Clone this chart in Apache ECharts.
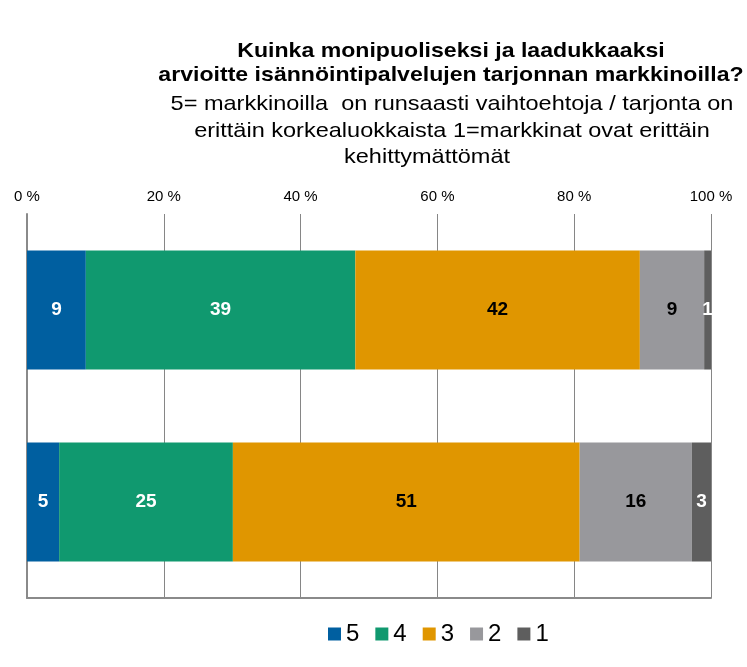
<!DOCTYPE html>
<html>
<head>
<meta charset="utf-8">
<script src="https://cdn.jsdelivr.net/npm/echarts@6/dist/echarts.min.js"></script>
<style>html,body{margin:0;padding:0;background:#fff}#c{width:747px;height:667px}</style>
</head>
<body>
<div id="c"></div>
<script>
// Data (percent shares)
var categories = ['Ryhmä 1', 'Ryhmä 2'];
var levels = ['5', '4', '3', '2', '1'];
var values5 = [8.6, 4.7];
var values4 = [39.4, 25.4];
var values3 = [41.6, 50.7];
var values2 = [9.4, 16.4];
var values1 = [1.0, 2.8];
var tickValues = [0, 20, 40, 60, 80, 100];

var titleLines = ['Kuinka monipuoliseksi ja laadukkaaksi', 'arvioitte isännöintipalvelujen tarjonnan markkinoilla?'];
var subtitleLines = ['5= markkinoilla  on runsaasti vaihtoehtoja / tarjonta on', 'erittäin korkealuokkaista 1=markkinat ovat erittäin', 'kehittymättömät'];

var colors = ['#005FA0', '#10996F', '#E09600', '#98989C', '#5E5E5E'];
var labelColors = ['#fff', '#fff', '#000', '#000', '#fff'];
var seriesValues = [values5, values4, values3, values2, values1];

var FONT = '"Liberation Sans", Arial, sans-serif';
var gridTop = 214, gridBottomPx = 598, gridLeft = 27, gridRightPx = 711;

var chart = echarts.init(document.getElementById('c'), null, {renderer: 'canvas'});

var graphics = [];
var titleY = [51, 75];
titleLines.forEach(function (t, i) {
  graphics.push({type: 'text', x: 451, y: titleY[i], scaleX: 1.1, z: 10,
    style: {text: t, x: 0, y: 0, textAlign: 'center', textVerticalAlign: 'middle',
      font: 'bold 21px ' + FONT, fill: '#000'}});
});
var subY = [104, 131, 157];
var subX = [452, 452, 427];
subtitleLines.forEach(function (t, i) {
  graphics.push({type: 'text', x: subX[i], y: subY[i], scaleX: 1.12, z: 10,
    style: {text: t, x: 0, y: 0, textAlign: 'center', textVerticalAlign: 'middle',
      font: '21px ' + FONT, fill: '#000'}});
});

var series = levels.map(function (lv, i) {
  return {
    name: lv, type: 'bar', stack: 'total', xAxisIndex: 0,
    barWidth: '62%',
    itemStyle: {color: colors[i]},
    label: {show: true, position: 'inside', color: labelColors[i],
      fontFamily: FONT, fontWeight: 'bold', fontSize: 19,
      formatter: function (p) { return Math.round(p.value); }},
    emphasis: {disabled: true},
    data: seriesValues[i]
  };
});

chart.setOption({
  animation: false,
  textStyle: {fontFamily: FONT},
  grid: {left: gridLeft, right: 747 - gridRightPx, top: gridTop, bottom: 667 - gridBottomPx},
  legend: {
    data: levels, left: 328, top: 622, padding: 0, icon: 'rect', itemWidth: 13, itemHeight: 13,
    itemGap: 16, textStyle: {fontSize: 24, color: '#000', fontFamily: FONT},
    selectedMode: false
  },
  xAxis: [{
    type: 'value', position: 'top', min: 0, max: 100, interval: 20,
    axisLine: {show: false}, axisTick: {show: false},
    axisLabel: {formatter: '{value} %', fontSize: 15, color: '#000', margin: 10, fontFamily: FONT},
    splitLine: {show: true, lineStyle: {color: '#868686', width: 1}}
  }, {
    type: 'value', position: 'bottom', min: 0, max: 100,
    axisLine: {show: true, lineStyle: {color: '#8a8a8a', width: 2}},
    axisTick: {show: false}, axisLabel: {show: false}, splitLine: {show: false}
  }],
  yAxis: {
    type: 'category', data: categories, inverse: true,
    axisLine: {show: true, onZero: false, lineStyle: {color: '#8a8a8a', width: 2}},
    axisTick: {show: false}, axisLabel: {show: false}, splitLine: {show: false}
  },
  series: series,
  graphic: graphics
});

// mask labels overflowing beyond the plot area (right of 100 %)
var x100 = chart.convertToPixel({xAxisIndex: 0}, 100);
graphics.push({type: 'rect', z: 100, silent: true,
  shape: {x: x100 + 1, y: gridTop + 1, width: 747 - x100, height: gridBottomPx - gridTop - 2},
  style: {fill: '#fff'}});
chart.setOption({graphic: graphics});
</script>
</body>
</html>
